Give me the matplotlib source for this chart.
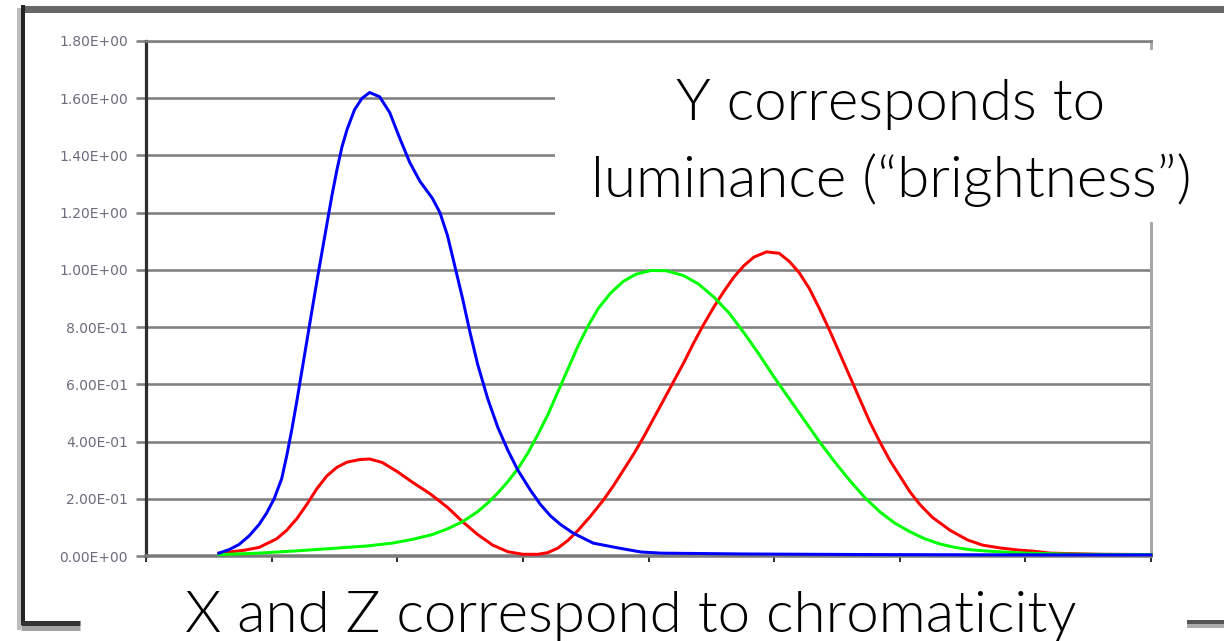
import matplotlib
matplotlib.use("Agg")
import matplotlib.pyplot as plt
from matplotlib.lines import Line2D
from matplotlib.patches import Rectangle

# CIE-style colour matching functions (wavelength in nm, value)
wl_x = [389, 399, 405, 412, 416, 420, 424, 428, 432, 436, 440, 445, 449, 454, 460,
        466, 473, 480, 486, 492, 498, 504, 510, 516, 520, 524, 528, 532, 537, 542,
        546, 550, 554, 558, 562, 566, 570, 574, 578, 582, 586, 590, 594, 598, 602,
        607, 612, 616, 620, 624, 628, 632, 636, 640, 644, 648, 652, 656, 660, 664,
        668, 673, 680, 687, 693, 700, 707, 713, 720, 740, 760]
x_bar = [0.01, 0.02, 0.03, 0.06, 0.09, 0.13, 0.18, 0.235, 0.28, 0.31, 0.328, 0.337,
         0.339, 0.327, 0.295, 0.258, 0.218, 0.17, 0.12, 0.075, 0.038, 0.015, 0.006,
         0.006, 0.012, 0.028, 0.055, 0.09, 0.14, 0.195, 0.245, 0.30, 0.355, 0.415,
         0.48, 0.545, 0.61, 0.675, 0.745, 0.81, 0.87, 0.925, 0.975, 1.015, 1.045,
         1.063, 1.058, 1.03, 0.99, 0.935, 0.865, 0.79, 0.71, 0.63, 0.55, 0.47, 0.40,
         0.335, 0.28, 0.225, 0.18, 0.135, 0.09, 0.056, 0.038, 0.028, 0.021, 0.017,
         0.01, 0.006, 0.005]

wl_y = [389, 405, 420, 435, 448, 458, 466, 474, 480, 486, 492, 496, 500, 504, 508,
        512, 516, 520, 524, 528, 532, 536, 540, 545, 550, 555, 561, 567, 574, 580,
        586, 592, 598, 604, 610, 616, 622, 628, 634, 640, 646, 652, 658, 664, 670,
        676, 682, 688, 695, 710, 730, 760]
y_bar = [0.005, 0.01, 0.018, 0.027, 0.035, 0.045, 0.058, 0.075, 0.095, 0.12, 0.155,
         0.185, 0.22, 0.26, 0.305, 0.36, 0.425, 0.495, 0.575, 0.655, 0.735, 0.805,
         0.865, 0.92, 0.96, 0.985, 0.998, 0.997, 0.98, 0.95, 0.905, 0.85, 0.78,
         0.705, 0.625, 0.55, 0.475, 0.40, 0.33, 0.265, 0.205, 0.155, 0.115, 0.085,
         0.06, 0.042, 0.03, 0.022, 0.017, 0.01, 0.006, 0.005]

wl_z = [389, 393, 397, 401, 405, 408, 411, 414, 416, 418, 420, 422, 424, 426, 428,
        430, 432, 434, 436, 438, 440, 443, 446, 449, 453, 457, 461, 465, 469, 474,
        477, 480, 483, 486, 489, 492, 496, 500, 504, 508, 513, 517, 521, 525, 530,
        538, 548, 557, 565, 600, 650, 700, 760]
z_bar = [0.01, 0.022, 0.04, 0.07, 0.11, 0.15, 0.20, 0.27, 0.35, 0.44, 0.54, 0.645,
         0.75, 0.855, 0.96, 1.06, 1.16, 1.26, 1.35, 1.43, 1.49, 1.56, 1.60, 1.62,
         1.605, 1.55, 1.46, 1.375, 1.31, 1.25, 1.20, 1.12, 1.01, 0.90, 0.78, 0.67,
         0.55, 0.45, 0.37, 0.30, 0.23, 0.18, 0.14, 0.11, 0.08, 0.045, 0.028, 0.014,
         0.01, 0.007, 0.005, 0.004, 0.004]

y_ticks = [0.0, 0.2, 0.4, 0.6, 0.8, 1.0, 1.2, 1.4, 1.6, 1.8]
y_tick_labels = ["0.00E+00", "2.00E-01", "4.00E-01", "6.00E-01", "8.00E-01",
                 "1.00E+00", "1.20E+00", "1.40E+00", "1.60E+00", "1.80E+00"]
x_ticks = [360, 410, 460, 510, 560, 610, 660, 710, 760]

caption_top = ["Y corresponds to", "luminance (\u201cbrightness\u201d)"]
caption_bottom = "X and Z correspond to chromaticity"

W, H = 1224, 641
PT = 0.72  # points per pixel at 100 dpi


def fx(px):
    return px / W


def fy(py):
    return 1 - py / H


fig = plt.figure(figsize=(W / 100, H / 100), dpi=100)
fig.patch.set_facecolor("white")

ax = fig.add_axes([fx(146), fy(556), fx(1151) - fx(146), fy(41) - fy(556)])
ax.set_facecolor("white")
ax.set_xlim(360, 760)
ax.set_ylim(0, 1.8)

ax.set_yticks(y_ticks)
ax.set_yticklabels(y_tick_labels)
ax.set_xticks(x_ticks)
ax.set_xticklabels([])

ax.yaxis.grid(True, color="#808080", linewidth=2.6 * PT, zorder=0)
ax.set_axisbelow(True)
ax.tick_params(axis="y", direction="out", length=10 * PT, width=2.6 * PT,
               color="#808080", pad=8 * PT, labelsize=10, labelcolor="#706a7c")
ax.tick_params(axis="x", direction="out", length=6 * PT, width=2.0 * PT,
               color="#333333")

ax.spines["left"].set_color("#2e2e2e")
ax.spines["left"].set_linewidth(3.2 * PT)
ax.spines["bottom"].set_color("#7a7a7a")
ax.spines["bottom"].set_linewidth(3.5 * PT)
ax.spines["right"].set_color("#a8a8a8")
ax.spines["right"].set_linewidth(3.0 * PT)
ax.spines["top"].set_color("#808080")
ax.spines["top"].set_linewidth(2.6 * PT)

lw = 3.0 * PT
ax.plot(wl_x, x_bar, color="#ff0000", linewidth=lw, zorder=3, clip_on=False,
        solid_joinstyle="round")
ax.plot(wl_y, y_bar, color="#00ff00", linewidth=lw, zorder=3, clip_on=False,
        solid_joinstyle="round")
ax.plot(wl_z, z_bar, color="#0000ff", linewidth=lw, zorder=4, clip_on=False,
        solid_joinstyle="round")


# outer frame pieces
def frame_line(x0, y0, x1, y1, width, color):
    fig.add_artist(Line2D([fx(x0), fx(x1)], [fy(y0), fy(y1)], color=color,
                          linewidth=width * PT, solid_capstyle="butt", zorder=10))


frame_line(21, 8.5, 1224, 8.5, 7, "#676767")
frame_line(19, 8, 19, 630, 4, "#bdbdbd")
frame_line(23, 5, 23, 625, 4, "#242424")
frame_line(21, 622.5, 80, 622.5, 5, "#333333")
frame_line(21, 627.5, 80, 627.5, 5, "#a3a3a3")
frame_line(1187, 622, 1224, 622, 4, "#555555")
frame_line(1187, 626, 1224, 626, 4, "#ababab")

# white panel behind the luminance caption
fig.add_artist(Rectangle((fx(555), fy(222)), fx(1224) - fx(555), fy(50) - fy(222),
                         facecolor="white", edgecolor="none", zorder=20))

font = dict(family=["Lato", "DejaVu Sans"], weight=350, color="black")
fig.text(fx(891), fy(120), caption_top[0], ha="center", va="baseline",
         fontsize=42, zorder=21, **font)
fig.text(fx(891), fy(197), caption_top[1], ha="center", va="baseline",
         fontsize=42, zorder=21, **font)
fig.text(fx(631), fy(632), caption_bottom, ha="center", va="baseline",
         fontsize=42, zorder=21, **font)

fig.savefig("out.png", dpi=100, facecolor="white")
